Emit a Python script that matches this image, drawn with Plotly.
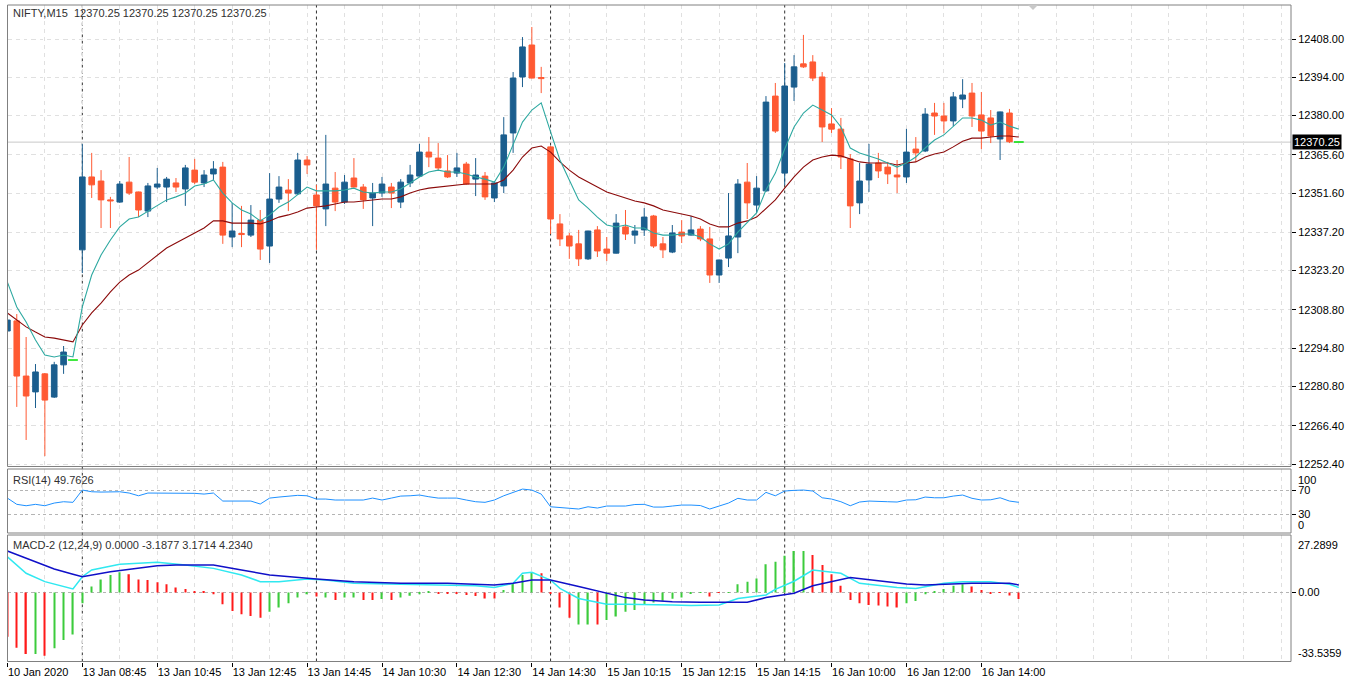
import plotly.graph_objects as go

W, H = 1350, 683

# ---------------- data ----------------
bars = list(range(109))
open_ = [12301.1,12304.8,12284.6,12278.8,12285.4,12276.9,12288.7,12290.5,
         12330.8,12357.5,12356.0,12349.1,12348.3,12355.6,12352.0,12345.0,12353.8,12353.8,12355.3,12353.1,12360.0,12355.3,12358.6,12361.1,12335.5,12336.8,12336.2,12341.7,12332.2,12349.4,12352.7,12351.3,12363.7,
         12350.9,12345.8,12353.4,12348.3,12357.1,12353.8,12349.8,12351.6,12353.8,12348.3,12355.3,12357.8,12366.6,12364.4,12359.7,12358.9,12362.2,12356.7,12357.8,12349.8,12354.2,12373.6,12394.1,12405.8,12393.9,
         12368.5,12340.3,12335.9,12333.0,12327.5,12338.1,12331.1,12329.6,12339.2,12336.2,12338.1,12343.2,12333.0,12330.0,12337.3,12336.2,12338.4,12334.8,12321.6,12327.8,12335.5,12355.6,12347.2,12352.4,12387.1,
         12358.9,12390.4,12398.9,12399.6,12394.1,12376.9,12375.0,12364.1,12348.0,12356.4,12362.6,12361.1,12358.2,12357.5,12367.7,12367.0,12380.9,12379.8,12378.0,12386.0,12388.2,12380.2,12379.1,12371.4,12380.9,12370.25]
high = [12314.3,12307.3,12298.9,12289.0,12285.7,12289.8,12295.6,12290.5,
        12369.6,12366.3,12360.0,12350.2,12356.0,12364.8,12352.1,12355.3,12360.8,12357.5,12357.1,12361.9,12364.1,12360.0,12363.3,12363.0,12348.0,12346.9,12347.2,12345.4,12358.9,12357.8,12356.7,12366.3,12365.2,
        12354.6,12372.9,12359.3,12358.2,12364.4,12354.9,12355.3,12357.5,12355.3,12356.7,12361.9,12369.6,12372.1,12369.9,12365.5,12366.3,12363.0,12364.4,12359.3,12356.0,12379.4,12395.9,12408.7,12412.4,12397.8,
        12368.8,12343.9,12337.0,12338.1,12337.8,12339.5,12335.5,12343.9,12345.4,12339.9,12346.1,12343.6,12335.5,12339.9,12341.7,12343.2,12339.5,12339.2,12327.2,12351.6,12356.7,12362.6,12357.8,12387.1,12391.9,
        12399.2,12402.1,12409.5,12402.1,12395.9,12382.7,12379.1,12365.9,12362.6,12369.6,12366.3,12363.0,12363.7,12375.1,12372.1,12382.7,12384.6,12384.6,12388.6,12393.3,12391.9,12388.6,12382.0,12381.4,12382.4,12370.25]
low = [12291.6,12273.3,12261.2,12272.9,12255.3,12276.6,12285.4,12290.5,
       12322.3,12349.8,12338.8,12338.8,12348.0,12350.9,12342.8,12342.8,12353.1,12348.3,12352.0,12346.9,12354.9,12353.8,12356.4,12333.0,12331.8,12331.8,12335.5,12327.1,12326.0,12348.0,12345.0,12350.9,12358.6,
       12330.8,12339.5,12345.0,12347.6,12353.7,12345.8,12339.5,12350.2,12346.1,12346.1,12353.8,12357.5,12361.1,12359.7,12357.1,12357.5,12354.6,12350.5,12349.1,12348.3,12351.6,12366.3,12390.4,12393.6,12388.2,
       12336.6,12332.2,12327.5,12324.9,12327.1,12328.2,12326.7,12329.5,12334.4,12333.0,12335.9,12331.5,12327.8,12329.6,12333.3,12336.1,12334.0,12318.7,12318.7,12324.5,12329.6,12342.1,12344.3,12352.0,12373.6,
       12354.6,12385.3,12397.4,12392.6,12370.3,12373.6,12360.4,12338.8,12343.9,12352.0,12357.1,12354.9,12351.6,12355.3,12363.0,12366.6,12372.9,12373.6,12376.1,12382.7,12375.8,12367.7,12369.9,12363.7,12369.9,12370.25]
close = [12305.1,12284.6,12277.3,12286.1,12275.8,12288.7,12293.4,12290.5,
         12357.5,12354.6,12349.1,12348.7,12354.9,12351.6,12345.4,12354.2,12354.9,12356.7,12353.8,12360.8,12355.6,12358.2,12360.4,12336.2,12337.7,12336.4,12341.7,12331.1,12349.4,12353.8,12351.6,12363.7,12361.9,
         12346.9,12354.9,12348.3,12355.6,12353.8,12349.1,12351.6,12354.9,12351.6,12355.6,12358.2,12366.6,12364.8,12360.8,12357.5,12360.8,12354.9,12358.2,12350.2,12355.3,12372.9,12393.7,12405.1,12393.7,12393.5,
         12342.1,12334.8,12332.2,12327.5,12337.7,12330.4,12329.6,12340.6,12336.6,12337.7,12342.8,12332.2,12330.8,12337.0,12335.9,12338.1,12334.8,12321.6,12327.1,12335.9,12354.9,12348.0,12353.4,12384.9,12374.3,
         12390.8,12397.8,12397.8,12393.7,12375.8,12375.0,12364.8,12346.9,12356.0,12362.2,12359.7,12358.6,12357.5,12366.6,12366.3,12380.5,12379.8,12378.0,12386.8,12387.5,12379.8,12374.3,12372.5,12381.3,12370.4,12370.25]

ma_fast = [12319.0,12309.9,12304.4,12297.8,12292.3,12291.6,12292.3,12291.6,
           12309.9,12321.6,12328.9,12334.4,12339.2,12342.1,12342.8,12345.0,12347.2,12349.1,12350.2,12351.6,12354.2,12354.9,12356.4,12351.6,12348.0,12345.4,12343.9,12341.4,12343.6,12346.5,12348.3,12350.9,12353.8,
           12352.4,12352.4,12352.4,12352.7,12353.4,12352.0,12351.6,12352.0,12352.0,12353.1,12355.3,12357.5,12359.3,12360.0,12359.3,12359.3,12358.6,12357.5,12356.7,12355.6,12361.1,12369.2,12377.6,12382.0,12384.6,
           12374.0,12363.7,12356.4,12349.1,12346.1,12342.8,12339.9,12339.2,12339.9,12338.8,12338.8,12337.0,12336.2,12336.2,12336.6,12336.6,12335.5,12333.0,12331.1,12333.0,12337.3,12341.0,12344.3,12352.7,12358.9,
           12367.7,12375.8,12380.9,12383.8,12382.0,12380.2,12375.8,12368.1,12366.3,12365.2,12364.1,12362.6,12361.1,12362.6,12364.8,12368.1,12371.0,12372.9,12376.1,12379.1,12379.1,12378.3,12376.5,12377.6,12376.1,12375.0]
ma_slow = [12307.7,12305.1,12302.6,12300.7,12298.9,12298.5,12297.8,12297.1,
           12303.3,12307.7,12311.3,12315.4,12319.0,12321.6,12323.4,12326.0,12328.9,12331.5,12333.3,12335.1,12337.0,12338.8,12341.4,12341.4,12340.6,12340.6,12340.6,12340.3,12341.4,12342.8,12343.6,12344.7,12346.1,
           12346.5,12346.9,12347.6,12348.3,12348.3,12348.7,12349.1,12349.4,12349.4,12350.2,12351.6,12352.7,12353.4,12353.8,12354.2,12354.6,12354.9,12354.9,12354.9,12354.9,12356.4,12360.0,12364.8,12368.1,12368.8,
           12366.6,12363.0,12360.0,12357.5,12355.6,12353.8,12352.0,12350.9,12349.8,12348.7,12348.0,12346.9,12345.4,12344.7,12343.9,12343.2,12342.1,12340.3,12339.2,12339.2,12340.6,12341.4,12342.8,12346.1,12349.1,
           12353.4,12357.5,12361.1,12363.7,12364.8,12365.5,12365.2,12364.1,12363.0,12362.6,12362.6,12362.6,12361.9,12362.6,12363.0,12364.8,12365.9,12366.6,12368.5,12370.6,12371.7,12371.7,12372.1,12372.5,12372.5,12372.1]

rsi = [56.7,46.4,44.1,46.4,44.1,48.5,50.7,49.7,
       69.9,67.1,66.6,66.6,67.1,65.0,60.5,65.0,65.0,65.0,65.0,64.0,64.5,63.3,65.0,51.8,51.8,51.8,51.8,46.9,56.7,58.4,60.0,61.2,60.5,
       55.1,55.1,53.5,53.5,53.5,53.5,56.7,53.5,56.7,60.0,60.5,61.7,58.9,56.7,56.7,56.7,53.5,50.7,49.7,53.5,60.5,66.6,71.5,69.9,63.3,
       42.4,41.4,40.8,38.7,42.4,40.3,43.6,43.6,43.6,46.1,46.4,41.9,41.9,43.6,45.2,45.2,44.4,38.7,43.6,48.5,56.3,53.5,53.5,66.1,60.5,
       68.3,69.4,69.9,68.3,57.2,55.1,50.7,44.1,50.2,51.8,50.7,50.7,50.2,53.5,53.9,58.4,57.2,57.2,60.0,61.7,56.3,53.5,53.9,57.2,51.8,49.7]

macd_hist = [-21.6,-27.0,-30.1,-30.1,-30.9,-27.3,-23.2,-20.5,
             -5.3,2.9,6.4,8.6,9.9,8.9,6.4,6.1,5.0,4.0,2.5,1.7,0.4,0.4,-0.9,-5.8,-9.1,-10.7,-11.5,-12.3,-9.4,-7.4,-5.3,-2.5,-0.9,
             -2.0,-2.5,-3.7,-2.5,-2.5,-3.7,-3.7,-3.2,-3.7,-2.4,-1.6,-0.9,0.7,-0.4,-0.4,-0.4,-1.2,-1.7,-2.9,-2.9,1.2,4.5,8.6,9.9,9.4,
             -0.5,-7.4,-12.3,-15.6,-15.6,-15.6,-13.5,-11.8,-9.4,-8.6,-6.1,-4.9,-4.0,-3.1,-2.5,-0.7,-0.1,-2.0,-0.1,-0.1,4.0,5.3,6.9,13.8,15.1,
             18.0,20.3,20.3,18.3,13.5,8.9,3.3,-3.7,-5.3,-6.1,-6.4,-6.9,-7.4,-5.3,-4.2,-0.9,0.7,1.7,3.3,4.0,2.9,1.2,-0.4,-0.1,-1.5,-3.2]
hist_color = ("rrrgrggg"
              "ggggg" "rrrrrrrrrr" "rrrrr" "ggggg"
              "rgrggrrgrggggrrrrrrrggggr"
              "rrrggr" "ggggggggggg" "rr" "gggggg"
              "ggg" "rrrrrrrrrr" "ggggggg" "rrrrrr")

macd_main_x = [0,2,4,7,8,9,12,15,16,19,22,25,27,29,32,34,37,42,47,50,52,54,55,56,58,59,61,64,66,68,71,73,76,78,81,82,84,86,89,91,95,97,100,102,105,107,108]
macd_main = [17.5,9.4,5.3,1.7,7.7,11.0,13.8,14.3,14.8,13.5,11.8,8.6,5.3,5.3,6.6,6.1,4.5,4.0,3.7,3.3,2.4,4.5,9.4,9.9,6.1,2.0,-2.9,-5.8,-5.8,-5.8,-6.1,-6.4,-6.1,-2.9,-1.2,1.5,5.5,11.0,9.4,4.5,2.4,2.0,4.5,5.3,5.3,4.0,2.4]
macd_signal_x = [0,3,5,7,8,11,14,16,18,22,25,28,33,37,42,47,52,54,56,58,61,64,66,68,71,74,79,81,84,86,89,90,93,96,98,103,107,108]
macd_signal = [20.3,15.1,11.5,8.9,7.7,10.2,11.8,13.1,13.5,13.5,11.0,8.6,6.6,5.3,4.5,4.5,3.7,4.5,6.1,6.1,2.9,-0.4,-2.5,-3.7,-4.5,-4.8,-4.8,-2.5,-0.4,3.3,6.1,7.3,5.8,4.2,3.7,4.5,4.5,3.7]

price_ticks = [12408.00,12394.00,12380.00,12365.60,12351.60,12337.20,12323.20,12308.80,12294.80,12280.80,12266.40,12252.40]
x_label_bars = [0,8,16,24,32,40,48,56,64,72,80,88,96,104]
x_labels = ["10 Jan 2020","13 Jan 08:45","13 Jan 10:45","13 Jan 12:45","13 Jan 14:45","14 Jan 10:30","14 Jan 12:30",
            "14 Jan 14:30","15 Jan 10:15","15 Jan 12:15","15 Jan 14:15","16 Jan 10:00","16 Jan 12:00","16 Jan 14:00"]
day_breaks = [8, 33, 58, 83]
last_price = 12370.25

# ---------------- styling ----------------
UP = "#1B5E8E"
DN = "#FF5A33"
FONT = "Liberation Sans"
GRID = "#E0E0E0"

def fy(y):
    return 1 - y / H

def fx(x):
    return x / W

X_DOM = [fx(7.5), fx(1291)]
X_RANGE = [(7.5 - 7.4) / 9.365, (1291 - 7.4) / 9.365]

fig = go.Figure()

# wicks
for col, cond in ((UP, lambda i: close[i] > open_[i]), (DN, lambda i: close[i] < open_[i])):
    wx, wy = [], []
    for i in bars:
        if cond(i):
            wx += [i, i, None]
            wy += [low[i], high[i], None]
    fig.add_trace(go.Scatter(x=wx, y=wy, mode="lines", line=dict(color=col, width=1),
                             xaxis="x", yaxis="y", hoverinfo="skip"))

# bodies
bx, bbase, bh, bc = [], [], [], []
for i in bars:
    if close[i] != open_[i]:
        bx.append(i)
        bbase.append(min(open_[i], close[i]))
        bh.append(abs(close[i] - open_[i]))
        bc.append(UP if close[i] > open_[i] else DN)
fig.add_trace(go.Bar(x=bx, y=bh, base=bbase, width=0.6, marker=dict(color=bc, line=dict(color=bc, width=1)),
                     xaxis="x", yaxis="y", hoverinfo="skip"))

# doji (open == close) drawn as lime dash
dx = [i for i in bars if close[i] == open_[i]]
fig.add_trace(go.Scatter(x=dx, y=[close[i] for i in dx], mode="markers",
                         marker=dict(symbol="line-ew", size=7, line=dict(color="#00E000", width=1.5)),
                         xaxis="x", yaxis="y", hoverinfo="skip"))

# moving averages
fig.add_trace(go.Scatter(x=bars, y=ma_slow, mode="lines", line=dict(color="#8B0A0A", width=1.1),
                         xaxis="x", yaxis="y", hoverinfo="skip"))
fig.add_trace(go.Scatter(x=bars, y=ma_fast, mode="lines", line=dict(color="#2EA9A1", width=1.1),
                         xaxis="x", yaxis="y", hoverinfo="skip"))

# RSI
fig.add_trace(go.Scatter(x=bars, y=rsi, mode="lines", line=dict(color="#1E90FF", width=1),
                         xaxis="x2", yaxis="y2", hoverinfo="skip"))

# MACD histogram
hc = ["#3CCB3C" if c == "g" else "#FF1A1A" for c in hist_color]
fig.add_trace(go.Bar(x=bars, y=macd_hist, width=0.14, marker=dict(color=hc, line=dict(width=0)),
                     xaxis="x3", yaxis="y3", hoverinfo="skip"))
fig.add_trace(go.Scatter(x=macd_main_x, y=macd_main, mode="lines", line=dict(color="#30E8F0", width=1.5),
                         xaxis="x3", yaxis="y3", hoverinfo="skip"))
fig.add_trace(go.Scatter(x=macd_signal_x, y=macd_signal, mode="lines", line=dict(color="#1010C8", width=1.5),
                         xaxis="x3", yaxis="y3", hoverinfo="skip"))

tickfont = dict(family=FONT, size=11, color="#000000")
grid_vals = list(range(0, 138, 4))
xcommon = dict(domain=X_DOM, range=X_RANGE, zeroline=False, showline=False, fixedrange=True, automargin=False)
minor_grid = dict(tickmode="array", tickvals=grid_vals, showgrid=True, gridcolor=GRID, griddash="4px,4px",
                  gridwidth=1, ticks="")

fig.update_layout(
    width=W, height=H, margin=dict(l=0, r=0, t=0, b=0, autoexpand=False),
    paper_bgcolor="white", plot_bgcolor="white", showlegend=False, hovermode=False,
    barmode="overlay",
    xaxis=dict(**xcommon, anchor="y", tickmode="array", tickvals=grid_vals, showticklabels=False, ticks="",
               showgrid=True, gridcolor=GRID, griddash="4px,4px"),
    xaxis2=dict(**xcommon, anchor="y2", tickmode="array", tickvals=grid_vals, showticklabels=False, ticks="",
                showgrid=True, gridcolor=GRID, griddash="4px,4px"),
    xaxis3=dict(**xcommon, anchor="y3", tickmode="array", tickvals=x_label_bars, ticktext=x_labels,
                showgrid=True, gridcolor=GRID, griddash="4px,4px", minor=minor_grid,
                ticks="outside", ticklen=4, tickcolor="#000000", tickfont=tickfont,
                ticklabelposition="outside right"),
    yaxis=dict(domain=[fy(466), fy(5)], range=[12251.67, 12420.45], side="right", anchor="x",
               tickmode="array", tickvals=price_ticks, ticktext=["%.2f" % v for v in price_ticks],
               showgrid=True, gridcolor=GRID, griddash="4px,4px", zeroline=False, ticks="outside", ticklen=4,
               tickcolor="#000000", tickfont=tickfont, showline=False, fixedrange=True, automargin=False),
    yaxis2=dict(domain=[fy(533), fy(469)], range=[-0.78, 104.57], side="right", anchor="x2",
                tickmode="array", tickvals=[70, 30], ticktext=["70", "30"],
                showgrid=True, gridcolor="#B4B4B4", griddash="3px,3px", zeroline=False, ticks="outside", ticklen=4,
                tickcolor="#000000", tickfont=tickfont, showline=False, fixedrange=True, automargin=False),
    yaxis3=dict(domain=[fy(661.5), fy(535)], range=[-33.76, 28.13], side="right", anchor="x3",
                tickmode="array", tickvals=[0], ticktext=["0.00"],
                showgrid=True, gridcolor="#B4B4B4", griddash="3px,3px", zeroline=False, ticks="outside", ticklen=4,
                tickcolor="#000000", tickfont=tickfont, showline=False, fixedrange=True, automargin=False),
)

shapes = []
# panel frames
for (t, b) in ((5, 466.5), (469, 533), (535, 661.5)):
    shapes.append(dict(type="rect", xref="paper", yref="paper", x0=fx(7.5), x1=fx(1291), y0=fy(b), y1=fy(t),
                       line=dict(color="#808080", width=1), fillcolor="rgba(0,0,0,0)", layer="above"))
# day separators
for d in day_breaks:
    shapes.append(dict(type="line", xref="x", yref="paper", x0=d, x1=d, y0=fy(661.5), y1=fy(5),
                       line=dict(color="#303030", width=1, dash="3px,3px"), layer="below"))
# last price line
shapes.append(dict(type="line", xref="x domain", yref="y", x0=0, x1=1, y0=last_price, y1=last_price,
                   line=dict(color="#C8C8C8", width=1), layer="below"))
# chart shift marker
shapes.append(dict(type="path", xref="paper", yref="paper",
                   path="M %f %f L %f %f L %f %f Z" % (fx(1028), fy(5), fx(1038), fy(5), fx(1033), fy(10)),
                   fillcolor="#C8C8C8", line=dict(width=0)))
fig.update_layout(shapes=shapes)

ann = [
    dict(text="NIFTY,M15  12370.25 12370.25 12370.25 12370.25", xref="paper", yref="paper",
         x=fx(11), y=fy(13), xanchor="left", yanchor="middle", showarrow=False,
         font=dict(family=FONT, size=11, color="#303030")),
    dict(text="RSI(14) 49.7626", xref="paper", yref="paper", x=fx(11), y=fy(480), xanchor="left",
         yanchor="middle", showarrow=False, font=dict(family=FONT, size=11, color="#303030")),
    dict(text="MACD-2 (12,24,9) 0.0000 -3.1877 3.1714 4.2340", xref="paper", yref="paper", x=fx(11), y=fy(545),
         xanchor="left", yanchor="middle", showarrow=False, font=dict(family=FONT, size=11, color="#303030")),
    dict(text="100", xref="paper", yref="y2", x=fx(1296), y=100, xanchor="left", yanchor="top",
         showarrow=False, font=tickfont),
    dict(text="0", xref="paper", yref="y2", x=fx(1296), y=0, xanchor="left", yanchor="bottom",
         showarrow=False, font=tickfont),
    dict(text="27.2899", xref="paper", yref="y3", x=fx(1296), y=27.29, xanchor="left", yanchor="top",
         showarrow=False, font=tickfont),
    dict(text="-33.5359", xref="paper", yref="y3", x=fx(1296), y=-33.54, xanchor="left", yanchor="bottom",
         showarrow=False, font=tickfont),
    dict(text="12370.25", xref="paper", yref="y", x=fx(1292), y=last_price, xanchor="left", yanchor="middle",
         showarrow=False, bgcolor="#000000", borderpad=1,
         font=dict(family=FONT, size=11, color="#FFFFFF")),
]
fig.update_layout(annotations=ann)

fig.write_html("out.html")
